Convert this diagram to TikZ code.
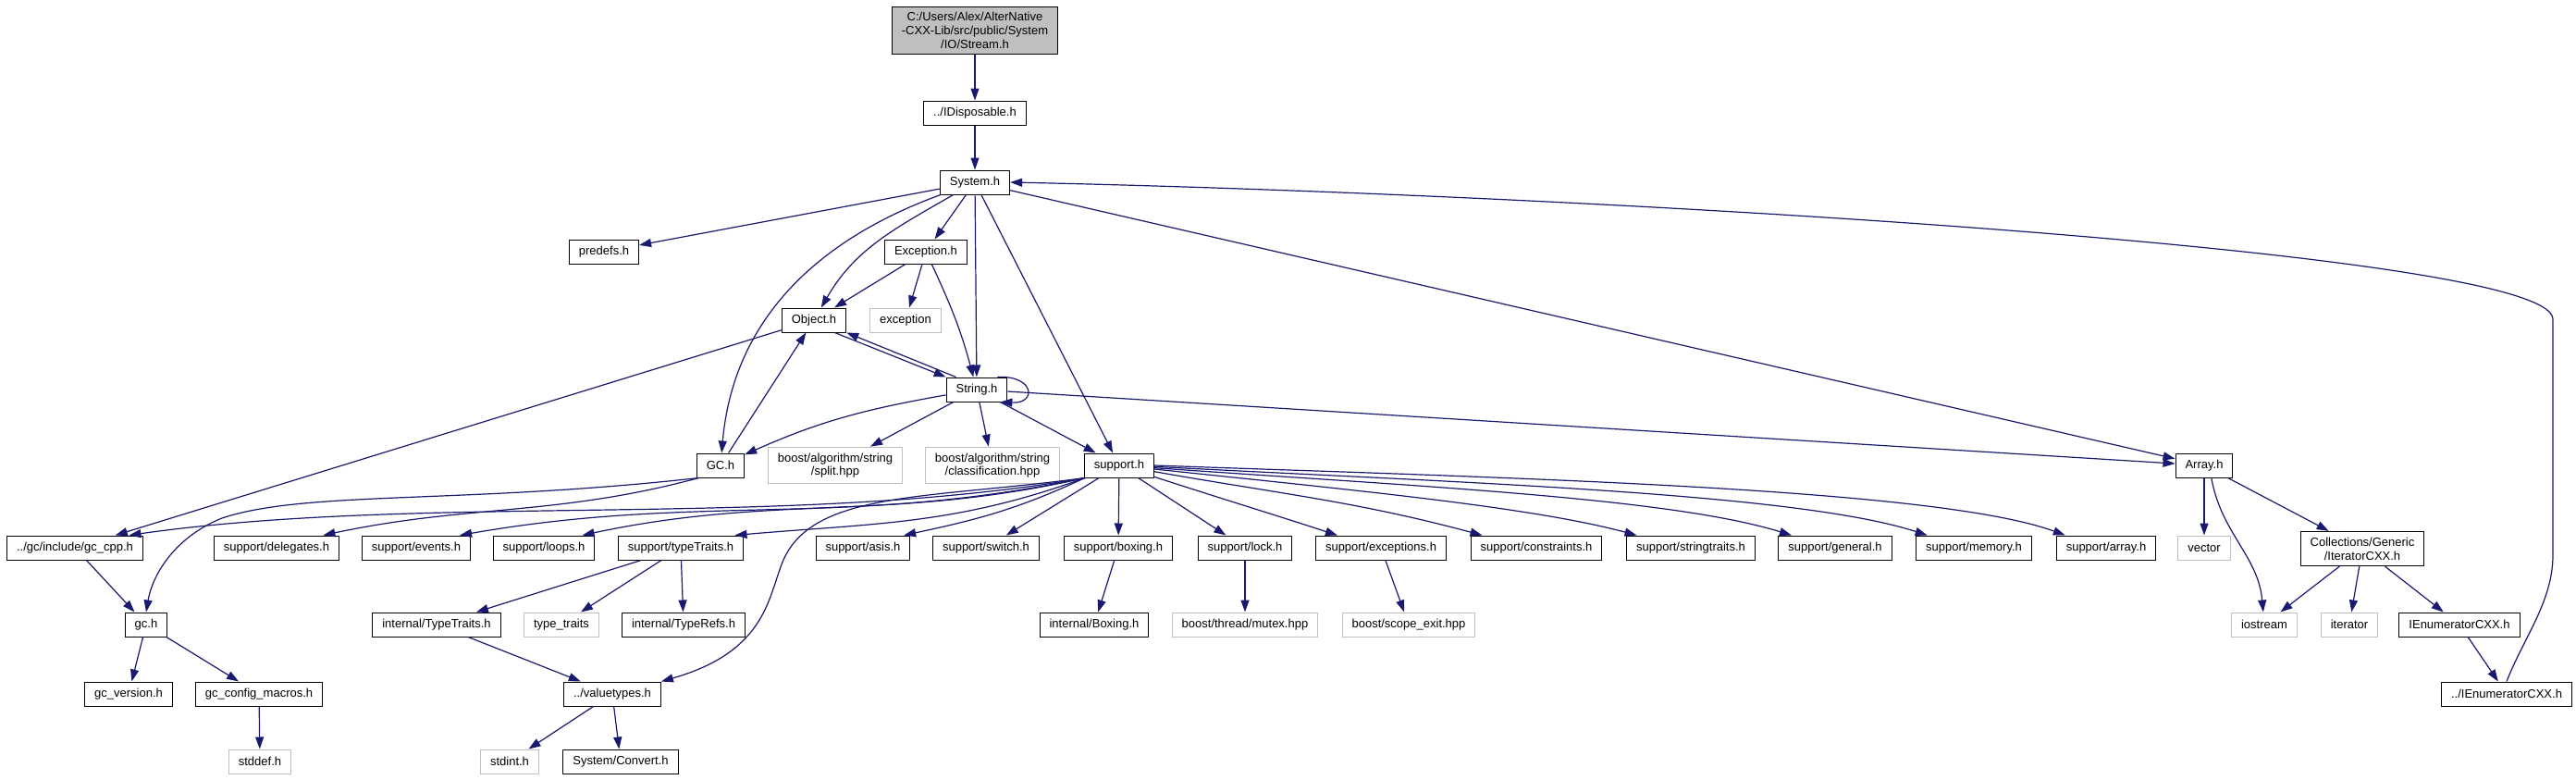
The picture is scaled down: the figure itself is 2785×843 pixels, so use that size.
\documentclass[tikz,border=0pt]{standalone}
\usepackage{fontspec}
\setmainfont{Liberation Sans}
\usetikzlibrary{arrows.meta}
\definecolor{edgeblue}{HTML}{191970}
\definecolor{grey75}{HTML}{BFBFBF}
\tikzset{
  hfile/.style={draw=black, fill=white, line width=1pt, inner xsep=10.5pt, inner ysep=6.5pt,
    minimum height=26pt, align=center, font=\fontsize{13}{14.7}\selectfont},
  extfile/.style={hfile, draw=grey75},
  mainfile/.style={hfile, fill=grey75},
  dep/.style={draw=edgeblue, line width=1.2pt, -{Triangle[length=13pt,width=9pt]}}
}

\begin{document}
\begin{tikzpicture}[x=1pt,y=1pt]
  \useasboundingbox (0,0) rectangle (2785,-843);
  % Draw the headers, row by row
  \node[mainfile] (stream) at (1054,-33) {C:/Users/Alex/AlterNative\\-CXX-Lib/src/public/System\\/IO/Stream.h};
  \node[hfile] (idisp) at (1054,-122) {../IDisposable.h};
  \node[hfile] (system) at (1054,-197) {System.h};
  \node[hfile] (predefs) at (653,-272) {predefs.h};
  \node[hfile] (excH) at (1001,-272) {Exception.h};
  \node[hfile] (object) at (880,-346) {Object.h};
  \node[extfile] (excStd) at (979,-346) {exception};
  \node[hfile] (string) at (1056,-421) {String.h};
  \node[hfile] (gcH) at (779,-503) {GC.h};
  \node[extfile] (split) at (903,-503) {boost/algorithm/string\\/split.hpp};
  \node[extfile] (classif) at (1073,-503) {boost/algorithm/string\\/classification.hpp};
  \node[hfile] (support) at (1210,-503) {support.h};
  \node[hfile] (array) at (2383,-503) {Array.h};
  % support row
  \node[hfile] (gccpp) at (81,-592) {../gc/include/gc\_cpp.h};
  \node[hfile] (delegates) at (299,-592) {support/delegates.h};
  \node[hfile] (events) at (450,-592) {support/events.h};
  \node[hfile] (loops) at (588,-592) {support/loops.h};
  \node[hfile] (suppTT) at (736,-592) {support/typeTraits.h};
  \node[hfile] (asis) at (933,-592) {support/asis.h};
  \node[hfile] (switch) at (1066,-592) {support/switch.h};
  \node[hfile] (boxing) at (1209,-592) {support/boxing.h};
  \node[hfile] (lock) at (1346,-592) {support/lock.h};
  \node[hfile] (suppExc) at (1493,-592) {support/exceptions.h};
  \node[hfile] (constraints) at (1661,-592) {support/constraints.h};
  \node[hfile] (stringtraits) at (1828,-592) {support/stringtraits.h};
  \node[hfile] (general) at (1984,-592) {support/general.h};
  \node[hfile] (memory) at (2134,-592) {support/memory.h};
  \node[hfile] (suppArray) at (2277,-592) {support/array.h};
  \node[extfile] (vector) at (2383,-592) {vector};
  \node[hfile] (iterCXX) at (2554,-593) {Collections/Generic\\/IteratorCXX.h};
  % next row
  \node[hfile] (gcLow) at (158,-675) {gc.h};
  \node[hfile] (intTT) at (472,-675) {internal/TypeTraits.h};
  \node[extfile] (stdTT) at (607,-675) {type\_traits};
  \node[hfile] (typeRefs) at (739,-675) {internal/TypeRefs.h};
  \node[hfile] (intBoxing) at (1183,-675) {internal/Boxing.h};
  \node[extfile] (mutex) at (1346,-675) {boost/thread/mutex.hpp};
  \node[extfile] (scopeExit) at (1523,-675) {boost/scope\_exit.hpp};
  \node[extfile] (iostream) at (2448,-675) {iostream};
  \node[extfile] (iterator) at (2540,-675) {iterator};
  \node[hfile] (ienum) at (2659,-675) {IEnumeratorCXX.h};
  \node[hfile] (gcVersion) at (139,-750) {gc\_version.h};
  \node[hfile] (gcConfig) at (280,-750) {gc\_config\_macros.h};
  \node[hfile] (valuetypes) at (662,-750) {../valuetypes.h};
  \node[hfile] (ienumUp) at (2710,-750) {../IEnumeratorCXX.h};
  \node[extfile] (stddef) at (281,-823) {stddef.h};
  \node[extfile] (stdint) at (551,-823) {stdint.h};
  \node[hfile] (convert) at (671,-823) {System/Convert.h};
  % include edges from the top
  \draw[dep] (stream) -- (idisp);
  \draw[dep] (idisp) -- (system);
  \draw[dep] (system) -- (predefs);
  \draw[dep] (system) -- (excH);
  \draw[dep] (system) to[out=-150,in=60] (object);
  \draw[dep] (system) to[out=-160,in=85] (gcH);
  \draw[dep] (system) -- (string);
  \draw[dep] (system) -- (support);
  \draw[dep] (system) -- (array);
  \draw[dep] (excH) -- (object);
  \draw[dep] (excH) -- (excStd);
  \draw[dep] (excH) to[out=-65,in=105] (string);
  \draw[dep] (object.-31) -- (string.north west);
  \draw[dep] (object) -- (gccpp);
  \draw[dep] (string.149) -- (object.south east);
  \draw[dep] (string.31) .. controls +(40,2) and +(40,-2) .. (string.-28);
  \draw[dep] (string) to[out=190,in=24] (gcH);
  \draw[dep] (string) -- (split);
  \draw[dep] (string) -- (classif);
  \draw[dep] (string) -- (support);
  \draw[dep] (string) -- (array);
  \draw[dep] (gcH) -- (object);
  \draw[dep] (gcH.-150) .. controls (500,-545) and (330,-530) .. (240,-560) .. controls (190,-580) and (165,-620) .. (gcLow.north);
  \draw[dep] (gcH.-150) to[out=195,in=12] (delegates.15);
  % support.h to the left
  \draw[dep] (support.-160) .. controls (854,-572) and (459,-533) .. (gccpp.13);
  \draw[dep] (support.-160) .. controls (913,-571) and (758,-533) .. (events.16);
  \draw[dep] (support.-160) .. controls (964,-564) and (838,-534) .. (loops.18);
  \draw[dep] (support.-160) to[out=200,in=5] (suppTT.13);
  \draw[dep] (support.-160) to[out=205,in=12] (asis.17);
  \draw[dep] (support.-160) .. controls (1000,-540) and (875,-530) .. (845,-610) .. controls (830,-650) and (825,-705) .. (valuetypes.north east);
  \draw[dep] (support) -- (switch);
  \draw[dep] (support) -- (boxing);
  \draw[dep] (support) -- (lock);
  % support.h to the right
  \draw[dep] (support.-18) to[out=-18,in=162] (suppExc.164);
  \draw[dep] (support.-10) to[out=-10,in=165] (constraints.167);
  \draw[dep] (support.-6) .. controls (1466,-530) and (1656,-548) .. (stringtraits.167);
  \draw[dep] (support.-4) .. controls (1537,-526) and (1805,-538) .. (general.164);
  \draw[dep] (support.-2) .. controls (1587,-522) and (1943,-533) .. (memory.165);
  \draw[dep] (support.0) .. controls (1647,-517) and (2094,-528) .. (suppArray.163);
  % lower rows
  \draw[dep] (suppTT) -- (intTT);
  \draw[dep] (suppTT) -- (stdTT);
  \draw[dep] (suppTT) -- (typeRefs);
  \draw[dep] (intTT) -- (valuetypes);
  \draw[dep] (valuetypes) -- (stdint);
  \draw[dep] (valuetypes) -- (convert);
  \draw[dep] (gccpp) -- (gcLow);
  \draw[dep] (gcLow) -- (gcVersion);
  \draw[dep] (gcLow) -- (gcConfig);
  \draw[dep] (gcConfig) -- (stddef);
  \draw[dep] (boxing) -- (intBoxing);
  \draw[dep] (lock) -- (mutex);
  \draw[dep] (suppExc) -- (scopeExit);
  % Array.h side
  \draw[dep] (array) -- (vector);
  \draw[dep] (array.-60) to[out=-80,in=95] (iostream);
  \draw[dep] (array) -- (iterCXX);
  \draw[dep] (iterCXX) -- (iostream);
  \draw[dep] (iterCXX) -- (iterator);
  \draw[dep] (iterCXX) -- (ienum);
  \draw[dep] (ienum) -- (ienumUp);
  \draw[dep] (ienumUp.north) .. controls (2728,-690) and (2760,-650) .. (2760,-600) -- (2760,-345) .. controls (2760,-270) and (1700,-210) .. (system.east);
\end{tikzpicture}
\end{document}
